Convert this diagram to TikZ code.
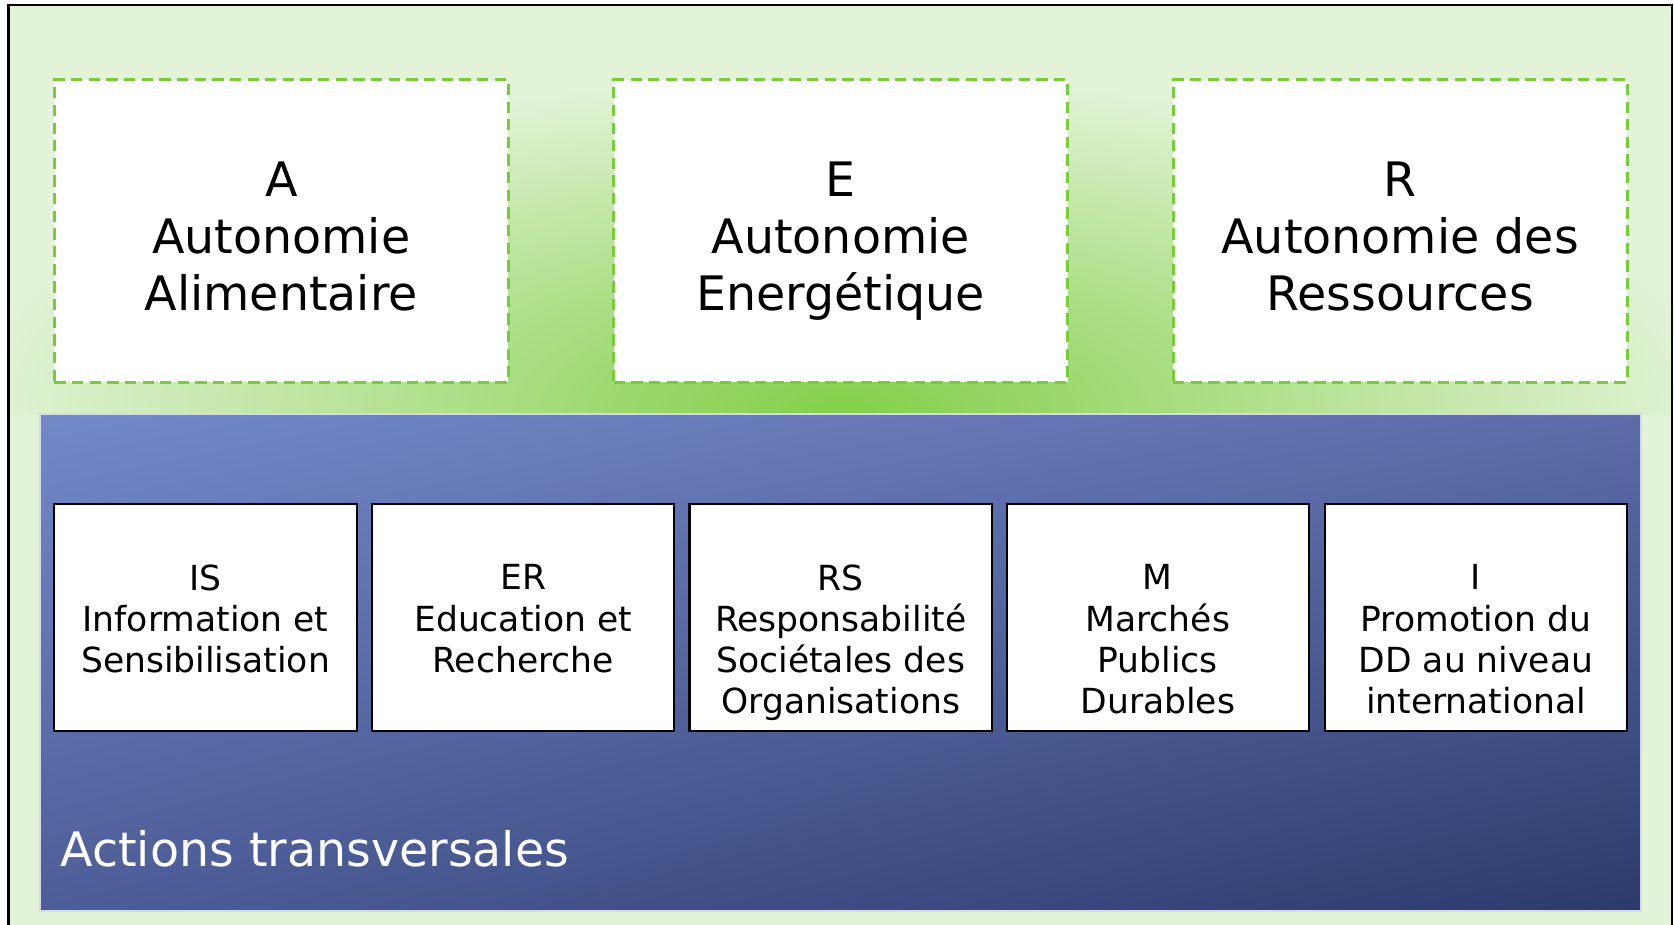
\documentclass[tikz,border=0pt]{standalone}
\usepackage{fontspec}
\setmainfont{DejaVu Sans}
\usetikzlibrary{calc,shadings}
\definecolor{bglight}{HTML}{E2F3D7}
\definecolor{glow}{HTML}{84CF4A}
\definecolor{dashgreen}{HTML}{7ACB3C}
\definecolor{blueUL}{HTML}{7389C8}
\definecolor{blueUR}{HTML}{5C6CA8}
\definecolor{blueLL}{HTML}{4D5D98}
\definecolor{blueLR}{HTML}{2C3B6B}
\definecolor{blueborder}{HTML}{D3DAEE}
\begin{document}
\begin{tikzpicture}[x=0.01cm,y=0.01cm,
  topbox/.style={draw=dashgreen, fill=white, dash pattern=on 3pt off 1.7pt, line width=0.8pt,
    minimum width=4.25cm, minimum height=2.83cm, inner sep=0pt},
  botbox/.style={draw=black, fill=white, line width=0.6pt,
    minimum width=2.83cm, minimum height=2.13cm, inner sep=0pt},
  toptext/.style={align=center, inner sep=0pt, anchor=north, font=\fontsize{12.65pt}{15.2pt}\selectfont},
  bottext/.style={align=center, inner sep=0pt, anchor=north, font=\fontsize{9.2pt}{10.95pt}\selectfont},
  bluepanel/.style={draw=blueborder, line width=0.6pt, upper left=blueUL, upper right=blueUR,
    lower left=blueLL, lower right=blueLR, minimum width=14.99cm, minimum height=4.65cm, inner sep=0pt}
]
\useasboundingbox (0,0) rectangle (1568,866);
\begin{scope}
  \clip (0,0) rectangle (1568,866);
  \fill[bglight] (8,-20) rectangle (1566,861);
  \begin{scope}
    \clip (8,478) rectangle (1566,861);
    \shade[inner color=glow, outer color=bglight] (790,481) ellipse (820 and 315);
  \end{scope}
  \draw[black, line width=0.6pt] (8,-20) rectangle (1566,861);
\end{scope}

% blue panel
\node[bluepanel] (panel) at (787.5,245.5) {};

% top boxes
\node[topbox] (a) at (263.5,649.5) {};
\node[topbox] (e) at (787.5,649.5) {};
\node[topbox] (r) at (1311.5,649.5) {};
\node[toptext] (at) at ($(a.north)+(0,-77.5)$) {A\\Autonomie\\Alimentaire};
\node[toptext] (et) at ($(e.north)+(0,-77.5)$) {E\\Autonomie\\Energétique};
\node[toptext] (rt) at ($(r.north)+(0,-77.5)$) {R\\Autonomie des\\Ressources};

% bottom boxes
\node[botbox] (is) at (192.5,287.5) {};
\node[botbox] (er) at (490,287.5) {};
\node[botbox] (rs) at (787.5,287.5) {};
\node[botbox] (m) at (1084.5,287.5) {};
\node[botbox] (i) at (1382.5,287.5) {};
\node[bottext] (ist) at ($(is.north)+(0,-57.4)$) {IS\\Information et\\Sensibilisation};
\node[bottext] (ert) at ($(er.north)+(0,-57.4)$) {ER\\Education et\\Recherche};
\node[bottext] (rst) at ($(rs.north)+(0,-57.4)$) {RS\\Responsabilité\\Sociétales des\\Organisations};
\node[bottext] (mt) at ($(m.north)+(0,-57.4)$) {M\\Marchés\\Publics\\Durables};
\node[bottext] (it) at ($(i.north)+(0,-57.4)$) {I\\Promotion du\\DD au niveau\\international};

\node[anchor=base west, inner sep=0pt, text=white, font=\fontsize{12.65pt}{15.2pt}\selectfont] (act) at (56,54) {Actions transversales};
\end{tikzpicture}
\end{document}
